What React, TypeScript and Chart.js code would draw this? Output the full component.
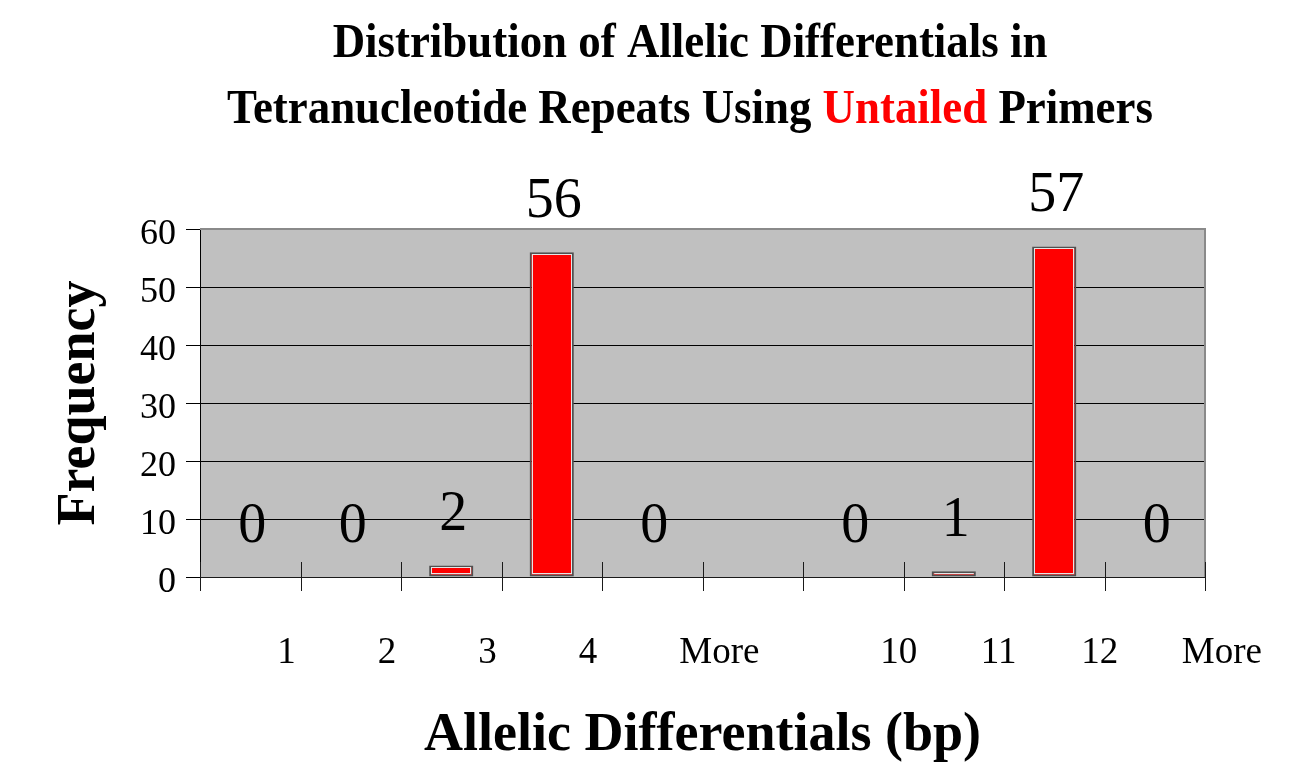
import React, { useEffect, useRef } from "react";
import { Chart, registerables } from "chart.js";

Chart.register(...registerables);

const categories: string[] = ["1", "2", "3", "4", "More", "", "10", "11", "12", "More"];
const frequencies: (number | null)[] = [0, 0, 2, 56, 0, null, 0, 1, 57, 0];
const yTicks: number[] = [0, 10, 20, 30, 40, 50, 60];
const titleLine1 = "Distribution of Allelic Differentials in";
const titleLine2Parts: { text: string; color: string }[] = [
  { text: "Tetranucleotide Repeats Using ", color: "#000000" },
  { text: "Untailed", color: "#ff0000" },
  { text: " Primers", color: "#000000" },
];
const xTitle = "Allelic Differentials (bp)";
const yTitle = "Frequency";

const SERIF = "'Liberation Serif', 'Times New Roman', serif";

const decorPlugin = {
  id: "decor",
  beforeDraw(chart: any) {
    const { ctx, chartArea } = chart;
    ctx.save();
    ctx.fillStyle = "#ffffff";
    ctx.fillRect(0, 0, chart.width, chart.height);
    ctx.fillStyle = "#c0c0c0";
    ctx.fillRect(chartArea.left, chartArea.top, chartArea.right - chartArea.left, chartArea.bottom - chartArea.top);
    ctx.restore();
  },
  beforeDatasetsDraw(chart: any) {
    const { ctx, chartArea } = chart;
    ctx.save();
    ctx.strokeStyle = "#8a8a8a";
    ctx.lineWidth = 2;
    ctx.beginPath();
    ctx.moveTo(chartArea.left, chartArea.top);
    ctx.lineTo(chartArea.right, chartArea.top);
    ctx.lineTo(chartArea.right, chartArea.bottom);
    ctx.stroke();
    ctx.restore();
  },
  afterDatasetsDraw(chart: any) {
    const { ctx, chartArea } = chart;
    const xs = chart.scales.x;
    ctx.save();
    const meta = chart.getDatasetMeta(0);
    meta.data.forEach((bar: any, i: number) => {
      const v = frequencies[i];
      if (v === null || v === 0) return;
      const half = bar.width / 2;
      ctx.strokeStyle = "#e6e6e6";
      ctx.lineWidth = 1;
      ctx.strokeRect(Math.round(bar.x - half) + 2.5, Math.round(bar.y) + 2.5, Math.round(bar.width) - 5, Math.round(bar.base - bar.y) - 5);
    });
    ctx.strokeStyle = "#1a1a1a";
    ctx.lineWidth = 1;
    for (let i = 0; i <= categories.length; i++) {
      const x = Math.round(xs.getPixelForValue(i - 0.5)) + 0.5;
      ctx.beginPath();
      ctx.moveTo(x, chartArea.bottom - 15);
      ctx.lineTo(x, chartArea.bottom + 14);
      ctx.stroke();
    }
    ctx.beginPath();
    ctx.moveTo(chartArea.left, Math.round(chartArea.bottom) + 0.5);
    ctx.lineTo(chartArea.right, Math.round(chartArea.bottom) + 0.5);
    ctx.stroke();
    ctx.fillStyle = "#000000";
    ctx.font = `56px ${SERIF}`;
    ctx.textAlign = "center";
    ctx.textBaseline = "alphabetic";
    meta.data.forEach((bar: any, i: number) => {
      const v = frequencies[i];
      if (v === null) return;
      ctx.fillText(String(v), bar.x + 2, bar.y - 35);
    });
    ctx.restore();
  },
  afterDraw(chart: any) {
    const { ctx } = chart;
    ctx.save();
    const sx = 0.935;
    const cx = 690;
    ctx.font = `bold 48px ${SERIF}`;
    ctx.textBaseline = "alphabetic";
    ctx.textAlign = "left";
    ctx.translate(cx, 0);
    ctx.scale(sx, 1);
    const w1 = ctx.measureText(titleLine1).width;
    ctx.fillStyle = "#000000";
    ctx.fillText(titleLine1, -w1 / 2, 57);
    const total = titleLine2Parts.reduce((s, p) => s + ctx.measureText(p.text).width, 0);
    let x = -total / 2;
    titleLine2Parts.forEach((p) => {
      ctx.fillStyle = p.color;
      ctx.fillText(p.text, x, 123);
      x += ctx.measureText(p.text).width;
    });
    ctx.restore();
  },
};

export default function App() {
  const ref = useRef<HTMLCanvasElement | null>(null);
  useEffect(() => {
    if (!ref.current) return;
    const chart = new Chart(ref.current, {
      type: "bar",
      data: {
        labels: categories,
        datasets: [
          {
            data: frequencies as any,
            backgroundColor: "#ff0000",
            borderColor: "#505050",
            borderWidth: 2,
            borderSkipped: false,
            barPercentage: 0.44,
            categoryPercentage: 1,
          },
        ],
      },
      options: {
        responsive: false,
        animation: false,
        layout: { padding: { left: 0, right: 109, top: 229, bottom: 0 } },
        plugins: {
          legend: { display: false },
          tooltip: { enabled: false },
          title: { display: false },
        },
        scales: {
          x: {
            type: "category",
            offset: true,
            grid: { display: false, drawTicks: false },
            border: { display: true, color: "#000000", width: 1 },
            ticks: {
              color: "#000000",
              font: { family: SERIF, size: 37 },
              align: "start",
              labelOffset: 27,
              padding: 54,
              maxRotation: 0,
              autoSkip: false,
            },
            title: {
              display: true,
              text: xTitle,
              color: "#000000",
              font: { family: SERIF, size: 54, weight: "bold" },
              padding: { top: 0, bottom: 2 },
            },
            afterFit(scale: any) {
              scale.height = 193;
            },
          },
          y: {
            min: 0,
            max: 60,
            afterBuildTicks(scale: any) {
              scale.ticks = yTicks.map((v) => ({ value: v }));
            },
            grid: {
              color: (c: any) => (c.tick && c.tick.value === 60 ? "#8a8a8a" : "#000000"),
              tickColor: "#000000",
              tickLength: 14,
              lineWidth: 1,
            },
            border: { display: true, color: "#000000", width: 1 },
            ticks: {
              color: "#000000",
              font: { family: SERIF, size: 36 },
              padding: 10,
              labelOffset: 6,
            },
            title: {
              display: true,
              text: yTitle,
              color: "#000000",
              font: { family: SERIF, size: 54, weight: "bold" },
              padding: { top: 48, bottom: 0 },
            },
            afterFit(scale: any) {
              scale.width = 200;
            },
          },
        },
      },
      plugins: [decorPlugin],
    });
    return () => chart.destroy();
  }, []);
  return (
    <div style={{ position: "fixed", left: 0, top: 0, width: 1314, height: 770, background: "#ffffff" }}>
      <canvas ref={ref} width={1314} height={770} style={{ width: 1314, height: 770, display: "block" }} />
    </div>
  );
}
